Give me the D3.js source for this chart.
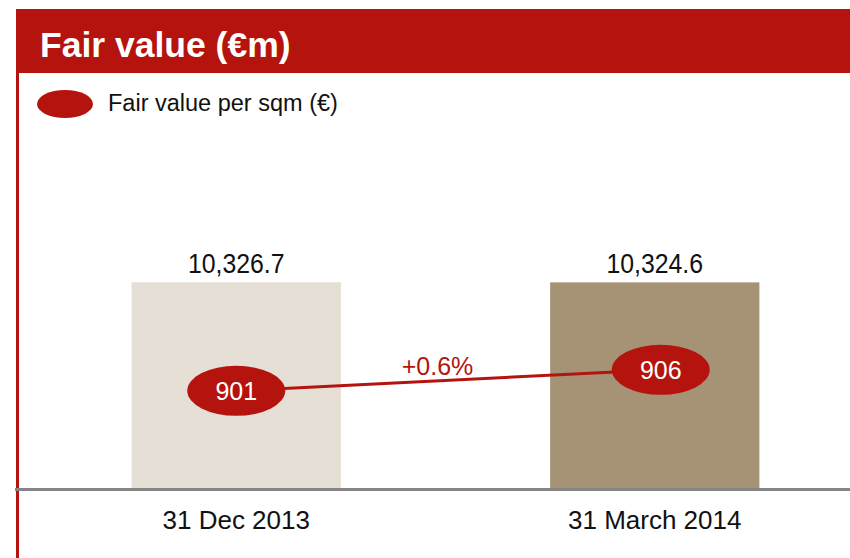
<!DOCTYPE html>
<html lang="en">
<head>
  <meta charset="utf-8">
  <title>Fair value</title>
  <script src="https://d3js.org/d3.v7.min.js"></script>
  <style>
    body { margin: 0; background: #fff; }
    svg text { font-family: "Liberation Sans", Arial, sans-serif; }
  </style>
</head>
<body>
<svg id="chart" width="850" height="558"></svg>
<script>
  // data
  var periods = ["31 Dec 2013", "31 March 2014"];
  var fairValue = [10326.7, 10324.6];
  var fairValueLabels = ["10,326.7", "10,324.6"];
  var perSqm = [901, 906];
  var changeLabel = "+0.6%";
  var barColors = ["#e5dfd5", "#a69375"];

  var red = "#b5140e";
  var svg = d3.select("#chart");

  // header band + left rule
  svg.append("rect").attr("x", 17).attr("y", 9).attr("width", 833).attr("height", 64).attr("fill", red);
  svg.append("rect").attr("x", 16).attr("y", 9).attr("width", 3).attr("height", 549).attr("fill", red);
  svg.append("text")
    .attr("x", 40).attr("y", 57)
    .attr("fill", "#fff")
    .style("font-size", "35.5px").style("font-weight", "bold")
    .text("Fair value (\u20acm)");

  // legend
  svg.append("ellipse").attr("cx", 65).attr("cy", 104).attr("rx", 28).attr("ry", 14).attr("fill", red);
  svg.append("text")
    .attr("x", 108).attr("y", 111)
    .attr("fill", "#111")
    .style("font-size", "23.5px")
    .text("Fair value per sqm (\u20ac)");

  // scales
  var x = d3.scaleBand().domain(periods).range([27, 864]).paddingInner(0.5).paddingOuter(0.25);
  var y = d3.scaleLinear().domain([0, 12000]).range([488, 249]);
  var ys = d3.scaleLinear().domain([880, 925]).range([479, 290]);

  // bars
  svg.selectAll(".bar").data(periods).enter().append("rect")
    .attr("class", "bar")
    .attr("x", function(d) { return x(d); })
    .attr("y", function(d, i) { return y(fairValue[i]); })
    .attr("width", x.bandwidth())
    .attr("height", function(d, i) { return y(0) - y(fairValue[i]); })
    .attr("fill", function(d, i) { return barColors[i]; });

  // value labels (narrow look)
  svg.selectAll(".vlab").data(periods).enter().append("g")
    .attr("transform", function(d, i) {
      return "translate(" + (x(d) + x.bandwidth() / 2) + "," + (y(fairValue[i]) - 9) + ") scale(0.92,1)";
    })
    .append("text")
    .attr("text-anchor", "middle")
    .attr("fill", "#111")
    .style("font-size", "27px")
    .text(function(d, i) { return fairValueLabels[i]; });

  // baseline axis
  svg.append("line")
    .attr("x1", 15).attr("x2", 850)
    .attr("y1", y(0) + 1.5).attr("y2", y(0) + 1.5)
    .attr("stroke", "#858585").attr("stroke-width", 3);

  svg.selectAll(".xlab").data(periods).enter().append("text")
    .attr("x", function(d) { return x(d) + x.bandwidth() / 2; })
    .attr("y", 529)
    .attr("text-anchor", "middle")
    .attr("fill", "#111")
    .style("font-size", "26px")
    .text(function(d) { return d; });

  // per sqm line + ellipses
  var cx = function(i) { return x(periods[i]) + x.bandwidth() / 2 + (i === 1 ? 6 : 0); };
  svg.append("path")
    .datum(perSqm)
    .attr("d", d3.line().x(function(d, i) { return cx(i); }).y(function(d) { return ys(d); }))
    .attr("stroke", red).attr("stroke-width", 3).attr("fill", "none");

  var mx = (cx(0) + cx(1)) / 2, my = (ys(perSqm[0]) + ys(perSqm[1])) / 2;
  svg.append("text")
    .attr("x", mx - 11).attr("y", my - 5)
    .attr("text-anchor", "middle")
    .attr("fill", red)
    .style("font-size", "25px")
    .text(changeLabel);

  svg.selectAll(".pt").data(perSqm).enter().append("ellipse")
    .attr("cx", function(d, i) { return cx(i); })
    .attr("cy", function(d) { return ys(d); })
    .attr("rx", 49).attr("ry", 25)
    .attr("fill", red);

  svg.selectAll(".ptlab").data(perSqm).enter().append("text")
    .attr("x", function(d, i) { return cx(i); })
    .attr("y", function(d) { return ys(d) + 9; })
    .attr("text-anchor", "middle")
    .attr("fill", "#fff")
    .style("font-size", "25px")
    .text(function(d) { return d; });
</script>
</body>
</html>
